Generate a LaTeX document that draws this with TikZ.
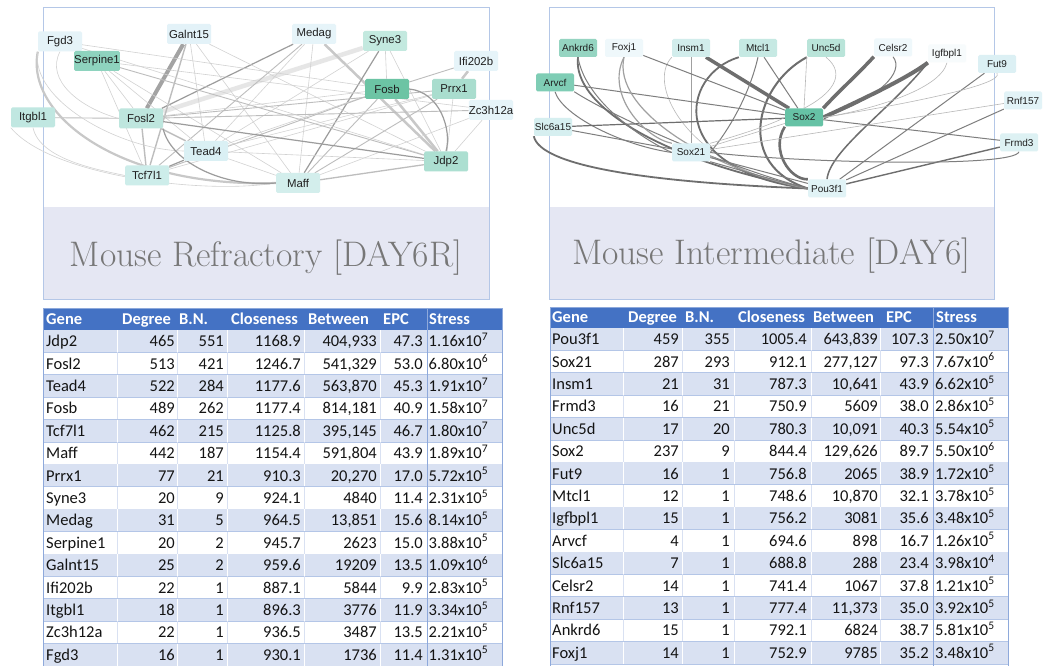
\documentclass[tikz,border=0pt]{standalone}
\usepackage{fontspec}
\newfontfamily\netfont{Liberation Sans}
\newfontfamily\tabfont{Carlito}
\pgfdeclarelayer{panel}
\pgfdeclarelayer{edges}
\pgfsetlayers{panel,edges,main}
\definecolor{panelline}{HTML}{B4C7E7}
\definecolor{bandfill}{HTML}{E5E7F3}
\definecolor{titlegray}{HTML}{777777}
\definecolor{hdrblue}{HTML}{4472C4}
\definecolor{rowshade}{HTML}{D9E1F2}
\definecolor{rowline}{HTML}{B4C6E7}
\definecolor{sepgrey}{HTML}{D9E1F2}
\definecolor{stressline}{HTML}{8EA9DB}
% left node fills
\definecolor{cFgd}{HTML}{E5F3F8}
\definecolor{cSerp}{HTML}{8ED3BE}
\definecolor{cGal}{HTML}{E3F2F8}
\definecolor{cItg}{HTML}{C0E7E1}
\definecolor{cFosl}{HTML}{BEE6DE}
\definecolor{cTead}{HTML}{DAF0F4}
\definecolor{cTcf}{HTML}{CDEDEA}
\definecolor{cMed}{HTML}{E6F4F9}
\definecolor{cSyne}{HTML}{C3E9DF}
\definecolor{cIfi}{HTML}{E6F4F9}
\definecolor{cFosb}{HTML}{6CC4A4}
\definecolor{cPrrx}{HTML}{A9DDCE}
\definecolor{cZc}{HTML}{E6F4F9}
\definecolor{cJdp}{HTML}{ACDFD1}
\definecolor{cMaff}{HTML}{D3EEEC}
% right node fills
\definecolor{cAnk}{HTML}{95D4C1}
\definecolor{cFox}{HTML}{EFF8FB}
\definecolor{cIns}{HTML}{D2EDEC}
\definecolor{cMtc}{HTML}{C6E9E3}
\definecolor{cUnc}{HTML}{B9E4D9}
\definecolor{cCel}{HTML}{EFF8FB}
\definecolor{cIgf}{HTML}{F7FBFC}
\definecolor{cFut}{HTML}{DCF0F4}
\definecolor{cArv}{HTML}{7FCDB5}
\definecolor{cRnf}{HTML}{E2F3F7}
\definecolor{cSlc}{HTML}{D6EFF0}
\definecolor{cSoxb}{HTML}{66C2A5}
\definecolor{cSoxa}{HTML}{DBF0F5}
\definecolor{cFrm}{HTML}{DDF1F3}
\definecolor{cPou}{HTML}{E1F3F6}
% edge greys
\definecolor{gA}{HTML}{D2D2D2}
\definecolor{gB}{HTML}{BDBDBD}
\definecolor{gC}{HTML}{9C9C9C}
\definecolor{gT}{HTML}{A3A3A3}
\definecolor{gP}{HTML}{E6E6E6}
\definecolor{gM}{HTML}{C8C8C8}
\definecolor{rD}{HTML}{6E6E6E}
\definecolor{rM}{HTML}{7E7E7E}
\definecolor{rL}{HTML}{A0A0A0}
\definecolor{rT}{HTML}{B8B8B8}
\tikzset{
  lnode/.style={rectangle, rounded corners=1.5pt, inner sep=0pt, minimum width=44pt, minimum height=20pt, text=black!88, font=\netfont\fontsize{11.4}{12}\selectfont},
  rnode/.style={rectangle, rounded corners=1.5pt, inner sep=0pt, minimum width=38pt, minimum height=18pt, text=black!88, font=\netfont\fontsize{10}{11}\selectfont},
  la/.style={draw=gA, line width=0.6pt},
  lb/.style={draw=gB, line width=0.9pt},
  lc/.style={draw=gC, line width=1.2pt},
  lthk/.style={draw=gT, line width=4pt},
  lpale/.style={draw=gP, line width=4.5pt},
  lmthk/.style={draw=gM, line width=2.5pt},
  rdk/.style={draw=rD, line width=1.3pt},
  rmd/.style={draw=rM, line width=1pt},
  rlt/.style={draw=rL, line width=0.8pt},
  rth/.style={draw=rT, line width=0.6pt},
  tabtxt/.style={inner sep=0pt, text=black!92, font=\tabfont\fontsize{16.5}{18}\selectfont},
  hdrtxt/.style={inner sep=0pt, text=white, font=\tabfont\bfseries\fontsize{16.5}{18}\selectfont},
  titletxt/.style={inner sep=0pt, text=titlegray, font=\fontsize{35.5}{38}\selectfont},
}
\newcommand\tabrowL[9]{%
  \pgfmathsetmacro\myrt{330+(#1-1)*22.4}%
  \pgfmathsetmacro\myrb{\myrt+22.4}%
  \pgfmathsetmacro\mybl{\myrt+16.6}%
  \ifodd#1\relax
    \fill[rowshade] (43,\myrt) rectangle (502,\myrb);
    \def\mysep{white}%
  \else
    \def\mysep{sepgrey}%
  \fi
  \foreach \xx in {117,177,227,304,380}{\draw[color=\mysep, line width=1pt] (\xx,\myrt) -- (\xx,\myrb);}
  \draw[rowline, line width=0.8pt] (43,\myrb) -- (502,\myrb);
  \node[tabtxt, anchor=base west] (tL#1a) at (46,\mybl) {#2};
  \node[tabtxt, anchor=base east] (tL#1b) at (175,\mybl) {#3};
  \node[tabtxt, anchor=base east] (tL#1c) at (224,\mybl) {#4};
  \node[tabtxt, anchor=base east] (tL#1d) at (301,\mybl) {#5};
  \node[tabtxt, anchor=base east] (tL#1e) at (377,\mybl) {#6};
  \node[tabtxt, anchor=base east] (tL#1f) at (423,\mybl) {#7};
  \node[tabtxt, anchor=base west] (tL#1g) at (428.5,\mybl) {#8x10\textsuperscript{#9}};
}
\newcommand\tabrowR[9]{%
  \pgfmathsetmacro\myrt{328+(#1-1)*22.4}%
  \pgfmathsetmacro\myrb{\myrt+22.4}%
  \pgfmathsetmacro\mybl{\myrt+16.6}%
  \ifodd#1\relax
    \fill[rowshade] (550,\myrt) rectangle (1008,\myrb);
    \def\mysep{white}%
  \else
    \def\mysep{sepgrey}%
  \fi
  \foreach \xx in {623,682,734,811,880}{\draw[color=\mysep, line width=1pt] (\xx,\myrt) -- (\xx,\myrb);}
  \draw[rowline, line width=0.8pt] (550,\myrb) -- (1008,\myrb);
  \node[tabtxt, anchor=base west] (tR#1a) at (552,\mybl) {#2};
  \node[tabtxt, anchor=base east] (tR#1b) at (679,\mybl) {#3};
  \node[tabtxt, anchor=base east] (tR#1c) at (730,\mybl) {#4};
  \node[tabtxt, anchor=base east] (tR#1d) at (807,\mybl) {#5};
  \node[tabtxt, anchor=base east] (tR#1e) at (878,\mybl) {#6};
  \node[tabtxt, anchor=base east] (tR#1f) at (929,\mybl) {#7};
  \node[tabtxt, anchor=base west] (tR#1g) at (935,\mybl) {#8x10\textsuperscript{#9}};
}
\begin{document}
\begin{tikzpicture}[x=1pt,y=-1pt]
\useasboundingbox (0,0) rectangle (1053,666);
% ---------- panels ----------
\begin{pgfonlayer}{panel}
\fill[white] (0,0) rectangle (1053,666);
\fill[white] (43,8) rectangle (489,299);
\fill[bandfill] (43,207) rectangle (489,299);
\draw[panelline, line width=1pt] (43,8) rectangle (489,299);
\fill[white] (549,8) rectangle (994,299);
\fill[bandfill] (549,207) rectangle (994,299);
\draw[panelline, line width=1pt] (549,8) rectangle (994,299);
\end{pgfonlayer}
\node[titletxt, anchor=base] (titleL) at (266,266) {Mouse Refractory [DAY6R]};
\node[titletxt, anchor=base] (titleR) at (771.5,264) {Mouse Intermediate [DAY6]};
% ---------- left network nodes ----------
\node[lnode, fill=cFgd] (fgd3) at (60,41.5) {Fgd3};
\node[lnode, fill=cSerp] (serpine1) at (97,61) {Serpine1};
\node[lnode, fill=cGal] (galnt15) at (189,34) {Galnt15};
\node[lnode, fill=cItg] (itgbl1) at (33,117.5) {Itgbl1};
\node[lnode, fill=cFosl] (fosl2) at (141,118.5) {Fosl2};
\node[lnode, fill=cTead] (tead4) at (206,151) {Tead4};
\node[lnode, fill=cTcf] (tcf7l1) at (147,175.5) {Tcf7l1};
\node[lnode, fill=cMed] (medag) at (314,34) {Medag};
\node[lnode, fill=cSyne] (syne3) at (385,41) {Syne3};
\node[lnode, fill=cIfi] (ifi202b) at (476,61) {Ifi202b};
\node[lnode, fill=cFosb] (fosb) at (387,89) {Fosb};
\node[lnode, fill=cPrrx] (prrx1) at (454,89) {Prrx1};
\node[lnode, fill=cZc] (zc3h12a) at (491,110) {Zc3h12a};
\node[lnode, fill=cJdp] (jdp2) at (446,161.5) {Jdp2};
\node[lnode, fill=cMaff] (maff) at (298,183) {Maff};
% ---------- right network nodes ----------
\node[rnode, fill=cAnk] (ankrd6) at (578,48) {Ankrd6};
\node[rnode, fill=cFox] (foxj1) at (624,48) {Foxj1};
\node[rnode, fill=cIns] (insm1) at (691,48) {Insm1};
\node[rnode, fill=cMtc] (mtcl1) at (758,48) {Mtcl1};
\node[rnode, fill=cUnc] (unc5d) at (826,48) {Unc5d};
\node[rnode, fill=cCel] (celsr2) at (893,47.5) {Celsr2};
\node[rnode, fill=cIgf] (igfbpl1) at (947,53.5) {Igfbpl1};
\node[rnode, fill=cFut] (fut9) at (997,64) {Fut9};
\node[rnode, fill=cArv] (arvcf) at (555,82.5) {Arvcf};
\node[rnode, fill=cRnf] (rnf157) at (1023,100.5) {Rnf157};
\node[rnode, fill=cSlc] (slc6a15) at (553,127) {Slc6a15};
\node[rnode, fill=cSoxb] (sox2) at (804,117.5) {Sox2};
\node[rnode, fill=cSoxa] (sox21) at (691,152.5) {Sox21};
\node[rnode, fill=cFrm] (frmd3) at (1019,142.5) {Frmd3};
\node[rnode, fill=cPou] (pou3f1) at (827,188.5) {Pou3f1};
% ---------- edges ----------
\begin{pgfonlayer}{edges}
% left
\draw[lpale] (syne3) -- (fosl2);
\draw[lthk] (galnt15) -- (fosl2);
\draw[lmthk] (medag) -- (jdp2);
\draw[lmthk] (fosb) -- (jdp2);
\draw[lmthk] (ifi202b) -- (prrx1);
\draw[lb] (ifi202b) -- (fosb);
\draw[lc] (medag) -- (fosl2);
\draw[lb] (medag) -- (tcf7l1);
\draw[la] (medag) -- (tead4);
\draw[la] (medag) -- (maff);
\draw[lc] (syne3) -- (maff);
\draw[la] (syne3) -- (fosb);
\draw[la] (syne3) -- (jdp2);
\draw[la] (syne3) -- (tead4);
\draw[lb, line width=1.4pt] (galnt15) -- (tcf7l1);
\draw[la] (galnt15) -- (tead4);
\draw[la] (galnt15) -- (maff);
\draw[la] (galnt15) -- (jdp2);
\draw[la] (fgd3) -- (fosb);
\draw[la] (fgd3) -- (jdp2);
\draw[la] (serpine1) -- (fosl2);
\draw[la] (serpine1) -- (tcf7l1);
\draw[la] (serpine1) -- (tead4);
\draw[la] (serpine1) -- (maff);
\draw[lb] (serpine1) -- (jdp2);
\draw[la] (serpine1) -- (zc3h12a);
\draw[lb] (fosb) -- (maff);
\draw[la] (fosb) -- (tead4);
\draw[lb] (fosb) -- (tcf7l1);
\draw[la] (fosb) -- (fosl2);
\draw[lb] (prrx1) -- (fosl2);
\draw[la] (prrx1) -- (tead4);
\draw[lb] (prrx1) -- (maff);
\draw[la] (prrx1) -- (jdp2);
\draw[la] (prrx1) -- (tcf7l1);
\draw[lb] (zc3h12a) -- (fosl2);
\draw[la] (zc3h12a) -- (jdp2);
\draw[la] (zc3h12a) -- (maff);
\draw[lb] (fosl2) -- (itgbl1);
\draw[lc] (fosl2) -- (jdp2);
\draw[lb, line width=1.4pt] (fosl2) -- (tead4);
\draw[lb, line width=1.4pt] (fosl2) -- (tcf7l1);
\draw[lc] (tead4) -- (tcf7l1);
\draw[la] (tead4) -- (jdp2);
\draw[la] (tead4) -- (maff);
\draw[lb, line width=1.3pt] (maff) -- (jdp2);
\draw[draw=gM, line width=2.2pt] (fgd3.south west) .. controls (25,115) and (120,188) .. (maff.west);
\draw[la] (fgd3.south) .. controls (45,80) and (80,108) .. (fosl2.west);
\draw[la] (fgd3.south west) .. controls (30,100) and (120,150) .. (tead4.west);
\draw[la] (itgbl1.south) .. controls (40,160) and (100,170) .. (tcf7l1.west);
\draw[la] (itgbl1.south west) .. controls (50,175) and (200,195) .. (maff.west);
\draw[lc] (fosl2.south east) .. controls (170,160) and (220,188) .. (maff.west);
\draw[lc] (fosb.east) .. controls (440,92) and (452,130) .. (jdp2.north);
% right
\draw[rdk, line width=3.5pt] (insm1) -- (sox2);
\draw[rlt] (insm1) -- (sox21);
\draw[rth] (insm1.south west) .. controls (645,85) and (690,170) .. (pou3f1.west);
\draw[rmd] (mtcl1) -- (sox2);
\draw[rmd] (mtcl1.south) .. controls (748,100) and (725,135) .. (sox21.east);
\draw[rdk, line width=1.8pt] (mtcl1.south west) .. controls (680,75) and (665,170) .. (pou3f1.west);
\draw[rdk, line width=2pt] (unc5d.south west) .. controls (755,85) and (735,165) .. (pou3f1.west);
\draw[rth] (unc5d.south) .. controls (848,75) and (830,95) .. (sox2.north);
\draw[rth] (unc5d.south west) -- (sox2.north);
\draw[rdk, line width=2.6pt] (sox2.south west) .. controls (770,150) and (790,180) .. (pou3f1.north west);
\draw[rdk, line width=3.5pt] (celsr2.south west) .. controls (860,72) and (835,95) .. (sox2.north east);
\draw[rmd] (celsr2.south) .. controls (905,72) and (880,98) .. (sox2.east);
\draw[rdk, line width=4pt] (igfbpl1.south west) .. controls (905,80) and (850,105) .. (sox2.east);
\draw[rdk, line width=1.5pt] (igfbpl1.south west) .. controls (890,110) and (830,150) .. (pou3f1.north);
\draw[rth] (igfbpl1.south) .. controls (940,90) and (870,110) .. (sox2.east);
\draw[rmd] (fut9) -- (pou3f1);
\draw[rth] (fut9.south) .. controls (1005,85) and (900,105) .. (sox2.east);
\draw[rmd] (rnf157) -- (pou3f1);
\draw[rth] (rnf157) -- (sox21);
\draw[rdk, line width=1.4pt] (frmd3) -- (pou3f1);
\draw[rmd] (sox2) -- (frmd3);
\draw[rmd] (sox21.east) .. controls (800,163) and (1015,168) .. (frmd3.south);
\draw[rmd] (arvcf) -- (sox2);
\draw[rmd] (arvcf.south) .. controls (562,115) and (620,145) .. (sox21.west);
\draw[rmd] (arvcf.south east) .. controls (610,115) and (720,165) .. (pou3f1.west);
\draw[rdk, line width=1.2pt] (slc6a15) -- (sox2);
\draw[rmd] (slc6a15) -- (sox21);
\draw[rdk, line width=1.8pt] (slc6a15.south west) .. controls (540,165) and (640,182) .. (pou3f1.west);
\draw[rdk, line width=1.8pt] (ankrd6.south) .. controls (572,105) and (660,160) .. (pou3f1.west);
\draw[rmd] (ankrd6.south) .. controls (585,100) and (640,138) .. (sox21.west);
\draw[rlt, line width=1.2pt] (foxj1.south) .. controls (605,95) and (645,138) .. (sox21.north west);
\draw[rlt, line width=1.2pt] (foxj1.south) .. controls (612,110) and (710,170) .. (pou3f1.west);
\draw[rmd] (foxj1) -- (sox2);
\draw[rmd] (sox21) -- (pou3f1);
\draw[rmd] (sox21.south east) .. controls (740,170) and (780,182) .. (pou3f1.west);
\draw[rth] (sox21) -- (sox2);
\draw[rth] (sox21.north east) .. controls (740,135) and (770,125) .. (sox2.west);
\end{pgfonlayer}
% ---------- left table ----------
\fill[hdrblue] (43,308.5) rectangle (502,330);
\node[hdrtxt, anchor=base west] (hL1) at (46,324.5) {Gene};
\node[hdrtxt, anchor=base west] (hL2) at (122,324.5) {Degree};
\node[hdrtxt, anchor=base west] (hL3) at (179,324.5) {B.N.};
\node[hdrtxt, anchor=base west] (hL4) at (231,324.5) {Closeness};
\node[hdrtxt, anchor=base west] (hL5) at (308,324.5) {Between};
\node[hdrtxt, anchor=base west] (hL6) at (383,324.5) {EPC};
\node[hdrtxt, anchor=base west] (hL7) at (429,324.5) {Stress};
\tabrowL{1}{Jdp2}{465}{551}{1168.9}{404,933}{47.3}{1.16}{7}
\tabrowL{2}{Fosl2}{513}{421}{1246.7}{541,329}{53.0}{6.80}{6}
\tabrowL{3}{Tead4}{522}{284}{1177.6}{563,870}{45.3}{1.91}{7}
\tabrowL{4}{Fosb}{489}{262}{1177.4}{814,181}{40.9}{1.58}{7}
\tabrowL{5}{Tcf7l1}{462}{215}{1125.8}{395,145}{46.7}{1.80}{7}
\tabrowL{6}{Maff}{442}{187}{1154.4}{591,804}{43.9}{1.89}{7}
\tabrowL{7}{Prrx1}{77}{21}{910.3}{20,270}{17.0}{5.72}{5}
\tabrowL{8}{Syne3}{20}{9}{924.1}{4840}{11.4}{2.31}{5}
\tabrowL{9}{Medag}{31}{5}{964.5}{13,851}{15.6}{8.14}{5}
\tabrowL{10}{Serpine1}{20}{2}{945.7}{2623}{15.0}{3.88}{5}
\tabrowL{11}{Galnt15}{25}{2}{959.6}{19209}{13.5}{1.09}{6}
\tabrowL{12}{Ifi202b}{22}{1}{887.1}{5844}{9.9}{2.83}{5}
\tabrowL{13}{Itgbl1}{18}{1}{896.3}{3776}{11.9}{3.34}{5}
\tabrowL{14}{Zc3h12a}{22}{1}{936.5}{3487}{13.5}{2.21}{5}
\tabrowL{15}{Fgd3}{16}{1}{930.1}{1736}{11.4}{1.31}{5}
\draw[stressline, line width=1pt] (427,308.5) -- (427,667);
\draw[stressline, line width=1pt] (43,308.5) rectangle (502,667);
% ---------- right table ----------
\fill[hdrblue] (550,307) rectangle (1008,328);
\node[hdrtxt, anchor=base west] (hR1) at (552,322.8) {Gene};
\node[hdrtxt, anchor=base west] (hR2) at (628,322.8) {Degree};
\node[hdrtxt, anchor=base west] (hR3) at (685,322.8) {B.N.};
\node[hdrtxt, anchor=base west] (hR4) at (738,322.8) {Closeness};
\node[hdrtxt, anchor=base west] (hR5) at (813,322.8) {Between};
\node[hdrtxt, anchor=base west] (hR6) at (886,322.8) {EPC};
\node[hdrtxt, anchor=base west] (hR7) at (936,322.8) {Stress};
\tabrowR{1}{Pou3f1}{459}{355}{1005.4}{643,839}{107.3}{2.50}{7}
\tabrowR{2}{Sox21}{287}{293}{912.1}{277,127}{97.3}{7.67}{6}
\tabrowR{3}{Insm1}{21}{31}{787.3}{10,641}{43.9}{6.62}{5}
\tabrowR{4}{Frmd3}{16}{21}{750.9}{5609}{38.0}{2.86}{5}
\tabrowR{5}{Unc5d}{17}{20}{780.3}{10,091}{40.3}{5.54}{5}
\tabrowR{6}{Sox2}{237}{9}{844.4}{129,626}{89.7}{5.50}{6}
\tabrowR{7}{Fut9}{16}{1}{756.8}{2065}{38.9}{1.72}{5}
\tabrowR{8}{Mtcl1}{12}{1}{748.6}{10,870}{32.1}{3.78}{5}
\tabrowR{9}{Igfbpl1}{15}{1}{756.2}{3081}{35.6}{3.48}{5}
\tabrowR{10}{Arvcf}{4}{1}{694.6}{898}{16.7}{1.26}{5}
\tabrowR{11}{Slc6a15}{7}{1}{688.8}{288}{23.4}{3.98}{4}
\tabrowR{12}{Celsr2}{14}{1}{741.4}{1067}{37.8}{1.21}{5}
\tabrowR{13}{Rnf157}{13}{1}{777.4}{11,373}{35.0}{3.92}{5}
\tabrowR{14}{Ankrd6}{15}{1}{792.1}{6824}{38.7}{5.81}{5}
\tabrowR{15}{Foxj1}{14}{1}{752.9}{9785}{35.2}{3.48}{5}
\draw[stressline, line width=1pt] (933,307) -- (933,667);
\draw[stressline, line width=1pt] (550,307) rectangle (1008,667);
\end{tikzpicture}
\end{document}
